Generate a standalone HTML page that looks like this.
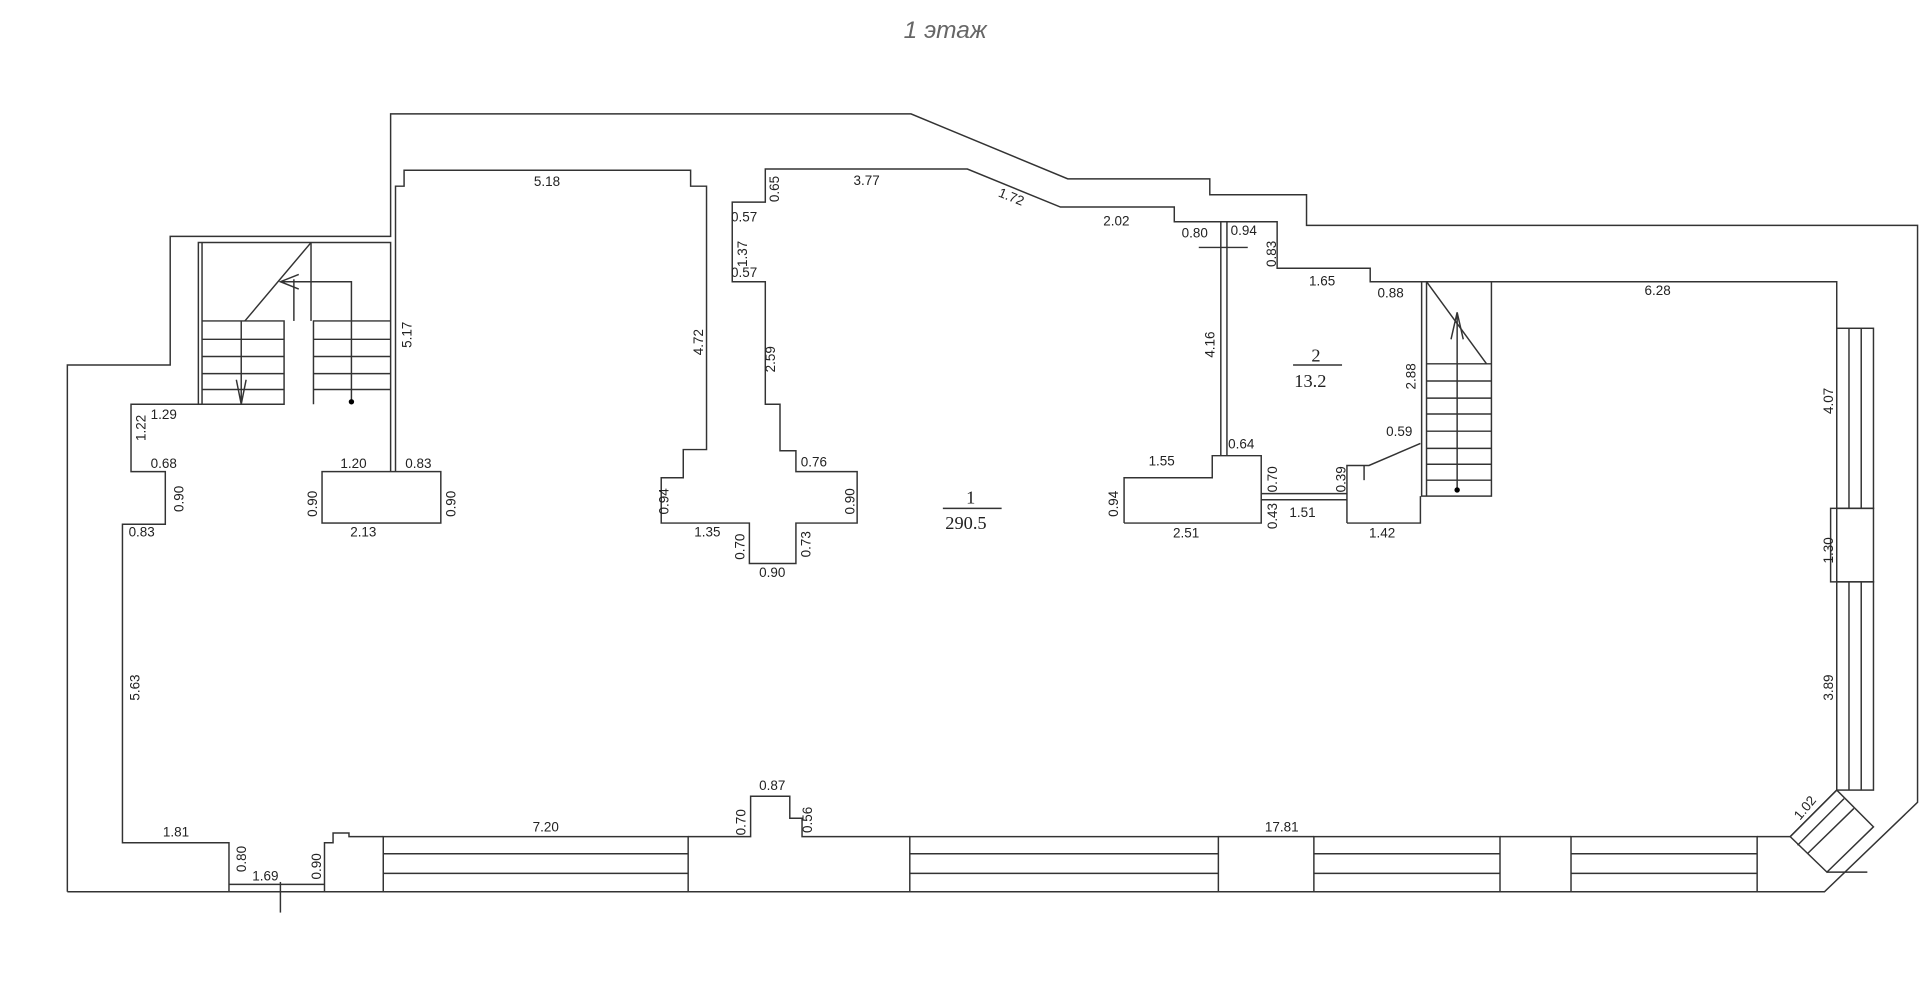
<!DOCTYPE html>
<html><head><meta charset="utf-8"><style>
html,body{margin:0;padding:0;background:#fff;}
svg{display:block}
text{font-family:"Liberation Sans",sans-serif;font-size:11px;fill:#222}
.t{font-family:"Liberation Serif",serif;font-size:15px}
</style></head><body>
<svg width="1920" height="1002" viewBox="0 0 1568 818" preserveAspectRatio="none" xmlns="http://www.w3.org/2000/svg">
<g fill="none" stroke="#333" stroke-width="1.2">
<!-- outer -->
<polyline points="55,728 55,298 139,298 139,193 319,193 319,93 744,93 872,146 988,146 988,159 1067,159 1067,184 1566,184 1566,655 1490,728 55,728"/>
<!-- inner main -->
<polyline points="187,728 187,688 100,688 100,428 135,428 135,385 107,385 107,330 165,330"/>
<polyline points="162,330 162,198 319,198 319,385"/>
<line x1="165" y1="198" x2="165" y2="330"/>
<polyline points="323,385 323,152 330,152 330,139 564,139 564,152 577,152 577,367 558,367 558,390 540,390 540,427 612,427 612,460 650,460 650,427 700,427 700,385 650,385 650,368 637,368 637,330 625,330 625,230 598,230 598,165 625,165 625,138 790,138 866,169 959,169 959,181 1043,181 1043,219 1119,219 1119,230 1500,230 1500,645 1462,683 1435,683"/>
<!-- wall 4.16 -->
<line x1="997" y1="181" x2="997" y2="372"/><line x1="1002" y1="181" x2="1002" y2="372"/>
<line x1="979" y1="202" x2="1019" y2="202"/>
<!-- bottom -->
<polyline points="265,728 265,688 272,688 272,680 285,680 285,683 313,683"/>
<polyline points="562,683 613,683 613,650 645,650 645,668 655,668 655,683 743,683"/>
<line x1="995" y1="683" x2="1073" y2="683"/><line x1="1225" y1="683" x2="1283" y2="683"/>
<g>
<rect x="313" y="683" width="249" height="45"/><line x1="313" y1="697" x2="562" y2="697"/><line x1="313" y1="713" x2="562" y2="713"/>
<rect x="743" y="683" width="252" height="45"/><line x1="743" y1="697" x2="995" y2="697"/><line x1="743" y1="713" x2="995" y2="713"/>
<rect x="1073" y="683" width="152" height="45"/><line x1="1073" y1="697" x2="1225" y2="697"/><line x1="1073" y1="713" x2="1225" y2="713"/>
<rect x="1283" y="683" width="152" height="45"/><line x1="1283" y1="697" x2="1435" y2="697"/><line x1="1283" y1="713" x2="1435" y2="713"/>
</g>
<!-- right windows -->
<rect x="1500" y="268" width="30" height="147"/><line x1="1510" y1="268" x2="1510" y2="415"/><line x1="1520" y1="268" x2="1520" y2="415"/>
<rect x="1495" y="415" width="35" height="60"/>
<rect x="1500" y="475" width="30" height="170"/><line x1="1510" y1="475" x2="1510" y2="645"/><line x1="1520" y1="475" x2="1520" y2="645"/>
<polygon points="1462,683 1500,645 1530,675 1492,712"/>
<line x1="1468" y1="690" x2="1506" y2="652"/><line x1="1476" y1="697" x2="1514" y2="660"/>
<line x1="1492" y1="712" x2="1525" y2="712"/>
<line x1="229" y1="720" x2="229" y2="745"/><line x1="187" y1="722" x2="265" y2="722"/>
<!-- columns -->
<rect x="263" y="385" width="97" height="42"/>
<polyline points="918,427 918,390 990,390 990,372 1030,372 1030,427 918,427"/>
<line x1="1030" y1="403" x2="1100" y2="403"/><line x1="1030" y1="408" x2="1100" y2="408"/>
<polyline points="1100,427 1100,380 1118,380 1160,362"/>
<polyline points="1100,427 1160,427 1160,405"/>
<line x1="1114" y1="380" x2="1114" y2="392"/>
<!-- left stair -->
<polyline points="165,262 232,262 232,330 165,330"/>
<line x1="165" y1="277" x2="232" y2="277"/><line x1="165" y1="291" x2="232" y2="291"/><line x1="165" y1="305" x2="232" y2="305"/><line x1="165" y1="318" x2="232" y2="318"/>
<polyline points="256,330 256,262 319,262"/>
<line x1="256" y1="277" x2="319" y2="277"/><line x1="256" y1="291" x2="319" y2="291"/><line x1="256" y1="305" x2="319" y2="305"/><line x1="256" y1="318" x2="319" y2="318"/>
<line x1="200" y1="262" x2="254" y2="198"/><line x1="254" y1="198" x2="254" y2="262"/>
<line x1="240" y1="228" x2="240" y2="262"/>
<polyline points="197,262 197,330"/><polyline points="193,310 197,330 201,310"/>
<polyline points="229,230 287,230 287,328"/>
<polyline points="244,224 229,230 244,236"/>
<!-- right stair -->
<rect x="1161" y="230" width="57" height="175"/>
<line x1="1165" y1="230" x2="1165" y2="405"/>
<line x1="1165" y1="230" x2="1214" y2="297"/>
<line x1="1165" y1="297" x2="1218" y2="297"/><line x1="1165" y1="311" x2="1218" y2="311"/><line x1="1165" y1="325" x2="1218" y2="325"/><line x1="1165" y1="338" x2="1218" y2="338"/><line x1="1165" y1="352" x2="1218" y2="352"/><line x1="1165" y1="366" x2="1218" y2="366"/><line x1="1165" y1="379" x2="1218" y2="379"/><line x1="1165" y1="392" x2="1218" y2="392"/>
<line x1="1190" y1="255" x2="1190" y2="400"/><polyline points="1185,277 1190,255 1195,277"/>
<line x1="770" y1="415" x2="818" y2="415"/><line x1="1056" y1="298" x2="1096" y2="298"/>
</g>
<circle cx="287" cy="328" r="2.2" fill="#000"/><circle cx="1190" cy="400" r="2.2" fill="#000"/>
<text x="738" y="31" style="font-size:20px;font-style:italic;fill:#666">1 этаж</text>
<text class="t" x="789" y="411">1</text><text class="t" x="772" y="432">290.5</text>
<text class="t" x="1071" y="295">2</text><text class="t" x="1057" y="316">13.2</text>
<text x="436" y="152">5.18</text><text x="697" y="151">3.77</text>
<text x="815" y="166" transform="rotate(22 830 162)">1.72</text>
<text x="901" y="184">2.02</text><text x="965" y="194">0.80</text><text x="1005" y="192">0.94</text>
<text x="1069" y="233">1.65</text><text x="1125" y="243">0.88</text><text x="1343" y="241">6.28</text>
<text x="123" y="342">1.29</text><text x="123" y="382">0.68</text><text x="105" y="438">0.83</text>
<text x="278" y="382">1.20</text><text x="331" y="382">0.83</text><text x="286" y="438">2.13</text>
<text x="654" y="381">0.76</text><text x="567" y="438">1.35</text><text x="620" y="471">0.90</text>
<text x="938" y="380">1.55</text><text x="1003" y="366">0.64</text><text x="958" y="439">2.51</text>
<text x="1053" y="422">1.51</text><text x="1118" y="439">1.42</text><text x="1132" y="356">0.59</text>
<text x="133" y="683">1.81</text><text x="206" y="719">1.69</text><text x="435" y="679">7.20</text>
<text x="620" y="645">0.87</text><text x="1033" y="679">17.81</text>
<g>
<text transform="translate(336,284) rotate(-90)">5.17</text>
<text transform="translate(574,290) rotate(-90)">4.72</text>
<text transform="translate(610,218) rotate(-90)">1.37</text>
<text transform="translate(636,165) rotate(-90)">0.65</text>
<text x="597" y="181">0.57</text><text x="597" y="226">0.57</text>
<text transform="translate(633,304) rotate(-90)">2.59</text>
<text transform="translate(546,420) rotate(-90)">0.94</text>
<text transform="translate(698,420) rotate(-90)">0.90</text>
<text transform="translate(608,457) rotate(-90)">0.70</text>
<text transform="translate(662,455) rotate(-90)">0.73</text>
<text transform="translate(119,360) rotate(-90)">1.22</text>
<text transform="translate(150,418) rotate(-90)">0.90</text>
<text transform="translate(259,422) rotate(-90)">0.90</text>
<text transform="translate(372,422) rotate(-90)">0.90</text>
<text transform="translate(114,572) rotate(-90)">5.63</text>
<text transform="translate(201,712) rotate(-90)">0.80</text>
<text transform="translate(262,718) rotate(-90)">0.90</text>
<text transform="translate(609,682) rotate(-90)">0.70</text>
<text transform="translate(663,680) rotate(-90)">0.56</text>
<text transform="translate(992,292) rotate(-90)">4.16</text>
<text transform="translate(1042,218) rotate(-90)">0.83</text>
<text transform="translate(1156,318) rotate(-90)">2.88</text>
<text transform="translate(913,422) rotate(-90)">0.94</text>
<text transform="translate(1043,402) rotate(-90)">0.70</text>
<text transform="translate(1043,432) rotate(-90)">0.43</text>
<text transform="translate(1099,402) rotate(-90)">0.39</text>
<text transform="translate(1497,338) rotate(-90)">4.07</text>
<text transform="translate(1497,460) rotate(-90)">1.30</text>
<text transform="translate(1497,572) rotate(-90)">3.89</text>
<text transform="translate(1470,670) rotate(-50)">1.02</text>
</g>
</svg>
</body></html>
